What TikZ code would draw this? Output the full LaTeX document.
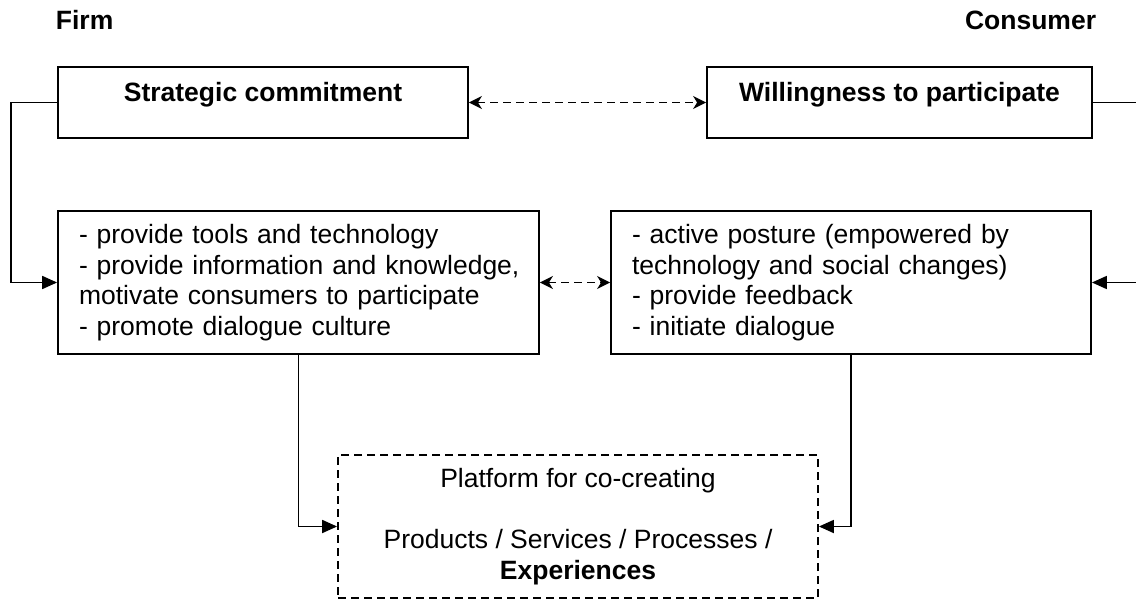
\documentclass[tikz,border=0pt]{standalone}
\usepackage{fontspec}
\setmainfont{Liberation Sans}
\usepackage{tikz}
\usetikzlibrary{arrows.meta}

\begin{document}
\begin{tikzpicture}[x=1pt, y=-1pt, line width=1.8pt,
	font=\fontsize{26.5}{30.5}\selectfont,
	side/.style={font=\fontsize{26.5}{30.5}\selectfont\bfseries, inner sep=0pt},
	goal/.style={rectangle, draw, font=\fontsize{26.5}{30.5}\selectfont\bfseries, minimum height=71pt, text height=19pt, text depth=20pt},
	task/.style={rectangle, draw, align=left, inner xsep=21pt, minimum height=143pt},
	plat/.style={rectangle, draw, dash pattern=on 8pt off 5pt, align=center, minimum width=480pt, minimum height=143pt},
	link/.style={-{Triangle[length=15pt, width=13pt]}},
	mutual/.style={{Stealth[length=13pt, width=13pt, inset=4pt]}-{Stealth[length=13pt, width=13pt, inset=4pt]}, dash pattern=on 8pt off 5pt},
]
\clip (0,0) rectangle (1136,599);
\node [side, anchor=west] (F) at (55,20)   {Firm};
\node [side, anchor=east] (C) at (1097,20) {Consumer};
\node [goal, minimum width=410pt] (SC) at (263,102.5) {Strategic commitment};
\node [goal, minimum width=385pt] (WP) at (899.5,102.5) {Willingness to participate};
\node [task, text width=439pt] (LF) at (298.5,282.5)
	{- provide tools and technology\\\mbox{- provide information and knowledge,}\\motivate consumers to participate\\- promote dialogue culture};
\node [task, text width=438pt] (RC) at (851,282.5)
	{- active posture (empowered by\\technology and social changes)\\- provide feedback\\- initiate dialogue};
\node [plat] (PL) at (578,526.5)
	{Platform for co-creating\\[30.5pt]Products / Services / Processes /\\\textbf{Experiences}};
%
\draw [mutual] (SC) -- (WP);
\draw [mutual] (LF) -- (RC);
\draw [link] (SC.west) -- ++(-46,0) |- (LF.west);
\draw [link] (WP.east) -- ++(46,0) |- (RC.east);
\draw [link] (LF.south) |- (PL.west);
\draw [link] (RC.south) |- (PL.east);
\end{tikzpicture}
\end{document}
